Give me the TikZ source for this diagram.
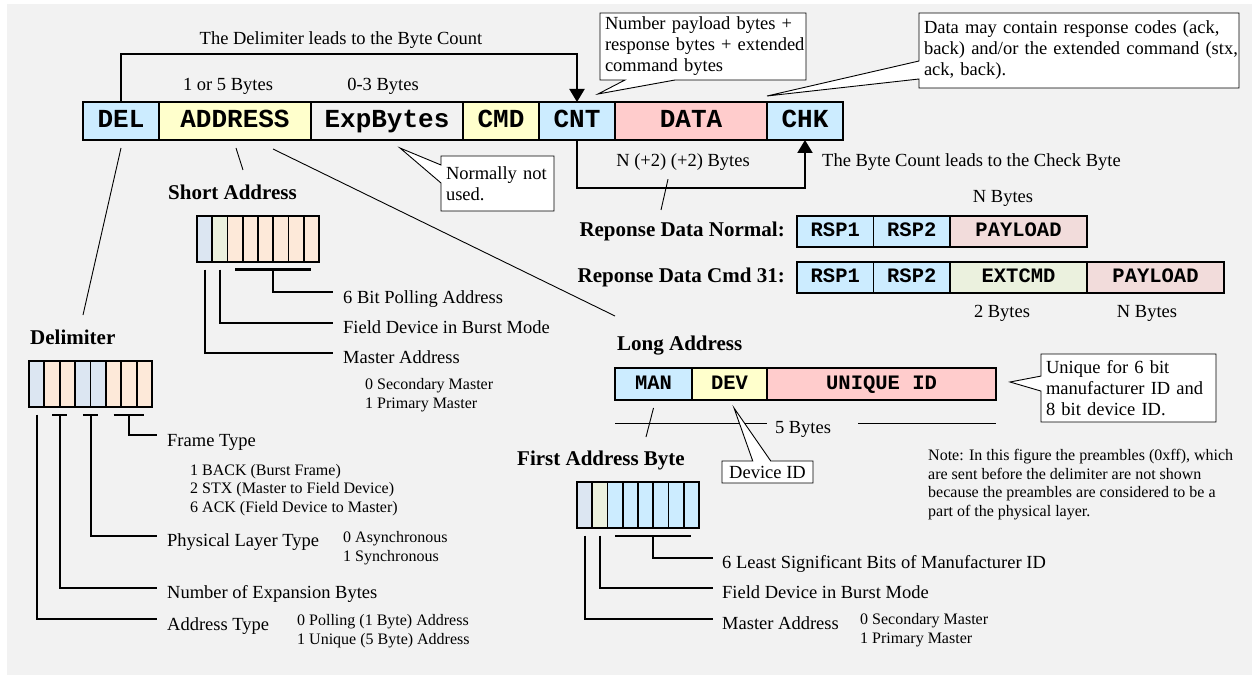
\documentclass[tikz,border=0pt]{standalone}
\usepackage{fontspec}
\setmainfont{Liberation Serif}
\setmonofont{Liberation Mono}
\usepackage{xcolor}
\usepackage{tikz}
\usetikzlibrary{calc}
\usetikzlibrary{arrows.meta}
\usetikzlibrary{positioning}
\usetikzlibrary{shapes.callouts}
\tikzset{>={Triangle[length=13pt,width=15pt]}}

\definecolor{bggray}{HTML}{F2F2F2}
\definecolor{fblue}{HTML}{CCECFF}
\definecolor{fyellow}{HTML}{FFFFCC}
\definecolor{fred}{HTML}{FFCCCC}
\definecolor{fpay}{HTML}{F2DCDB}
\definecolor{fext}{HTML}{EBF1DE}
\definecolor{bblue}{HTML}{DCE6F2}
\definecolor{bpeach}{HTML}{FDE9D9}
\definecolor{bgreen}{HTML}{EBF1DE}

\newcommand{\lblfont}{\fontsize{18.5}{21}\selectfont}
\newcommand{\smlfont}{\fontsize{16}{18.5}\selectfont}
\newcommand{\hdfont}{\fontsize{21}{24}\selectfont\bfseries}

\tikzstyle{field} = [draw, line width=2pt, inner sep=0, outer sep=0, minimum height=38, text height=16, text depth=3, font=\fontsize{26}{26}\selectfont\ttfamily\bfseries]
\tikzstyle{cell} = [draw, line width=1.8pt, inner sep=0, outer sep=0, minimum height=31, minimum width=76.5, text height=13, text depth=2, font=\fontsize{20.5}{20.5}\selectfont\ttfamily\bfseries]
\tikzstyle{bit} = [draw, line width=1.8pt, inner sep=0, outer sep=0, minimum width=15.3, minimum height=46]
\tikzstyle{txt} = [inner sep=0, anchor=base west, font=\lblfont]
\tikzstyle{val} = [inner sep=0, anchor=base west, align=left, font=\smlfont]
\tikzstyle{hd} = [inner sep=0, anchor=base west, font=\hdfont]
\tikzstyle{remark} = [rectangle callout, draw, fill=white, line width=0.9pt, align=left, inner xsep=5, inner ysep=3, callout pointer width=18, font=\lblfont]
\tikzstyle{brk} = [line width=2pt]
\tikzstyle{ptr} = [line width=0.9pt]

\begin{document}
\begin{tikzpicture}[x=1pt, y=-1pt]
\useasboundingbox (0,0) rectangle (1252,676);
\fill [white] (0,0) rectangle (1252,676);
\fill [bggray] (7,4) rectangle (1252,675);

% the frame
\node [field, fill=fblue, minimum width=76] (DEL) at (121,121) {DEL};
\node [field, fill=fyellow, minimum width=152, right=0pt of DEL] (ADDR) {ADDRESS};
\node [field, minimum width=152, right=0pt of ADDR] (EXP) {ExpBytes};
\node [field, fill=fyellow, minimum width=76, right=0pt of EXP] (CMD) {CMD};
\node [field, fill=fblue, minimum width=76, right=0pt of CMD] (CNT) {CNT};
\node [field, fill=fred, minimum width=152, right=0pt of CNT] (DATA) {DATA};
\node [field, fill=fblue, minimum width=76, right=0pt of DATA] (CHK) {CHK};

\node [txt, anchor=base] (dellead) at (341,45) {The Delimiter leads to the Byte Count};
\node [txt, anchor=base] (addrlen) at (228,91) {1 or 5 Bytes};
\node [txt, anchor=base] (explen) at (383,91) {0-3 Bytes};
\draw [brk, ->] (DEL.north) -- ++(0,-48) -| (CNT.north);

\node [txt, anchor=base] (datalen) at (683,167) {N (+2) (+2) Bytes};
\node [txt] (cntlead) at (822,167) {The Byte Count leads to the Check Byte};
\draw [brk, ->] (CNT.south) -- ++(0,48) -| (CHK.south);

\node [remark, text width=196, minimum height=67, callout pointer width=50, callout absolute pointer={($(CNT.north east)+(-17,-8)$)}] (cntnote) at (703,46.5) {\mbox{Number payload bytes +}\\\mbox{response bytes + extended}\\\mbox{command bytes}};
\node [remark, text width=310, minimum height=75, callout absolute pointer={($(DATA.north east)+(0,-6)$)}] (datanote) at (1079,50.5) {\mbox{Data may contain response codes (ack,}\\\mbox{back) and/or the extended command (stx,}\\\mbox{ack, back).}};
\node [remark, text width=103, minimum height=55, callout absolute pointer={($(EXP.south)+(13,8)$)}] (expnote) at (497.5,183.5) {\mbox{Normally not}\\\mbox{used.}};

% response data
\node [hd, anchor=base east] (rspnormal) at (785,237) {Reponse Data Normal:};
\node [cell, fill=fblue, line width=1.3pt, anchor=west] (RA) at (797,231.5) {RSP1};
\node [cell, fill=fblue, line width=1.3pt, right=0pt of RA] (RB) {RSP2};
\node [cell, fill=fpay, line width=1.3pt, minimum width=137, right=0pt of RB] (RC) {PAYLOAD};
\node [txt, anchor=base] (rclen) at (1003,203) {N Bytes};

\node [hd, anchor=base east] (rspcmd) at (785,283) {Reponse Data Cmd 31:};
\node [cell, fill=fblue, anchor=west] (XA) at (797,277.5) {RSP1};
\node [cell, fill=fblue, right=0pt of XA] (XB) {RSP2};
\node [cell, fill=fext, minimum width=137, right=0pt of XB] (XC) {EXTCMD};
\node [cell, fill=fpay, minimum width=137, right=0pt of XC] (XD) {PAYLOAD};
\node [txt, anchor=base] (xclen) at (1002,317) {2 Bytes};
\node [txt, anchor=base] (xdlen) at (1147,317) {N Bytes};

\coordinate (rspend) at (661,210);
\draw [ptr] ($(datalen.south)+(-15,8)$) -- (rspend);

% long address
\node [hd] (longhd) at (617,350) {Long Address};
\node [cell, fill=fblue, minimum height=32, minimum width=77, anchor=west] (MAN) at (615,384) {MAN};
\node [cell, fill=fyellow, minimum height=32, minimum width=75, right=0pt of MAN] (DEV) {DEV};
\node [cell, fill=fred, minimum height=32, minimum width=229, right=0pt of DEV] (UNI) {UNIQUE ID};
\node [txt, anchor=base] (longlen) at (803,433) {5 Bytes};
\draw [ptr] ($(MAN.south west)+(0,23)$) -- ($(DEV.south east)+(0,23)$);
\draw [ptr] ($(UNI.south east)+(-138,23)$) -- ($(UNI.south east)+(0,23)$);

\node [remark, text width=165, minimum height=68, callout pointer width=15, callout absolute pointer={($(UNI.east)+(14,-2)$)}] (uninote) at (1128.5,388) {\mbox{Unique for 6 bit}\\\mbox{manufacturer ID and}\\\mbox{8 bit device ID.}};
\node [remark, inner ysep=1, minimum width=91, minimum height=22, callout absolute pointer={($(DEV.south)+(4.5,8)$)}] (devnote) at (767.5,472) {Device ID};

\node [val] (prenote) at (928,516) {Note: In this figure the preambles (0xff), which\\are sent before the delimiter are not shown\\because the preambles are considered to be a\\part of the physical layer.};

% short address byte
\node [hd] (shorthd) at (168,200) {Short Address};
\foreach \c [count=\i from 0] in {bblue,bgreen,bpeach,bpeach,bpeach,bpeach,bpeach,bpeach}
  \node [bit, fill=\c] (s\i) at (197+15.25*\i+7.625,239) {};
\node [txt] (spoll) at (343,303) {6 Bit Polling Address};
\node [txt] (sburst) at (343,333) {Field Device in Burst Mode};
\node [txt] (smaster) at (343,363) {Master Address};
\node [val] (smastval) at (365,408) {0 Secondary Master\\1 Primary Master};
\draw [brk] ($(s2.south)+(0,7.5)$) -- ($(s7.south)+(0,7.5)$);
\draw [brk] ($(s4.south)!0.5!(s5.south)+(0,7.5)$) |- ($(spoll.base west)+(-10,-11)$);
\draw [brk] ($(s1.south)+(0,7.5)$) |- ($(sburst.base west)+(-10,-10)$);
\draw [brk] ($(s0.south)+(0,7.5)$) |- ($(smaster.base west)+(-10,-10)$);

\coordinate (shortend) at (243,170);
\coordinate (longend) at (615,316);
\draw [ptr] ($(ADDR.south)+(1,8)$) -- (shortend);
\draw [ptr] ($(ADDR.south)+(38,9)$) -- (longend);

% delimiter byte
\node [hd] (delhd) at (30,344) {Delimiter};
\foreach \c [count=\i from 0] in {bblue,bpeach,bpeach,bblue,bblue,bpeach,bpeach,bpeach}
  \node [bit, fill=\c, minimum width=15.4] (d\i) at (29+15.375*\i+7.69,384) {};
\node [txt] (dframe) at (167,446) {Frame Type};
\node [val] (dframeval) at (190,512) {1 BACK (Burst Frame)\\2 STX (Master to Field Device)\\6 ACK (Field Device to Master)};
\node [txt] (dphys) at (167,546) {Physical Layer Type};
\node [val] (dphysval) at (343,561) {0 Asynchronous\\1 Synchronous};
\node [txt] (dexp) at (167,598) {Number of Expansion Bytes};
\node [txt] (dtype) at (167,630) {Address Type};
\node [val] (dtypeval) at (297,644) {0 Polling (1 Byte) Address\\1 Unique (5 Byte) Address};
\draw [brk] ($(d5.south)+(0,7.5)$) -- ($(d7.south)+(0,7.5)$);
\draw [brk] ($(d6.south)+(0,7.5)$) |- ($(dframe.base west)+(-10,-11)$);
\draw [brk] ($(d3.south)+(0,7.5)$) -- ($(d4.south)+(0,7.5)$);
\draw [brk] ($(d3.south)!0.5!(d4.south)+(0,7.5)$) |- ($(dphys.base west)+(-10,-10)$);
\draw [brk] ($(d1.south)+(0,7.5)$) -- ($(d2.south)+(0,7.5)$);
\draw [brk] ($(d1.south)!0.5!(d2.south)+(0,7.5)$) |- ($(dexp.base west)+(-10,-10)$);
\draw [brk] ($(d0.south)+(0,7.5)$) |- ($(dtype.base west)+(-10,-11)$);

\coordinate (delend) at (83,315);
\draw [ptr] ($(DEL.south)+(0,8)$) -- (delend);

% first address byte
\node [hd] (firsthd) at (517,465) {First Address Byte};
\foreach \c [count=\i from 0] in {bblue,bgreen,fblue,fblue,fblue,fblue,fblue,fblue}
  \node [bit, fill=\c] (f\i) at (577+15.25*\i+7.625,505) {};
\node [txt] (fman) at (722,568) {6 Least Significant Bits of Manufacturer ID};
\node [txt] (fburst) at (722,598) {Field Device in Burst Mode};
\node [txt] (fmaster) at (722,629) {Master Address};
\node [val] (fmastval) at (860,643) {0 Secondary Master\\1 Primary Master};
\draw [brk] ($(f2.south)+(0,7.5)$) -- ($(f7.south)+(0,7.5)$);
\draw [brk] ($(f4.south)!0.5!(f5.south)+(0,7.5)$) |- ($(fman.base west)+(-9,-10)$);
\draw [brk] ($(f1.south)+(0,7.5)$) |- ($(fburst.base west)+(-9,-10)$);
\draw [brk] ($(f0.south)+(0,7.5)$) |- ($(fmaster.base west)+(-9,-10)$);

\coordinate (manend) at (646,437);
\draw [ptr] ($(MAN.south)+(0,8)$) -- (manend);
\end{tikzpicture}
\end{document}
